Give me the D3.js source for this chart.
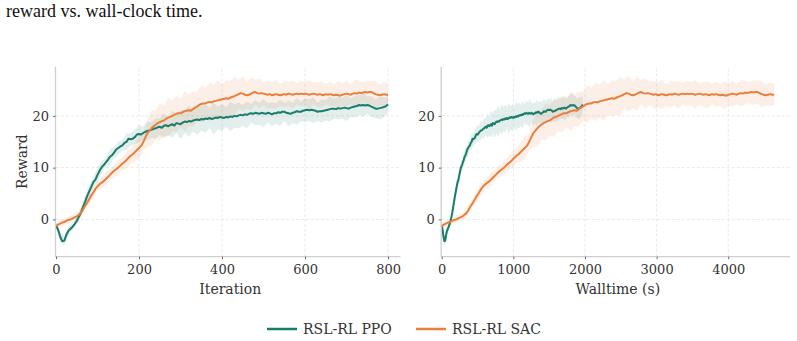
<!DOCTYPE html>
<html><head><meta charset="utf-8">
<script src="https://cdn.jsdelivr.net/npm/d3@7"></script>
<style>html,body{margin:0;padding:0;background:#fff;}svg{display:block;}</style>
</head><body>
<svg id="chart" width="797" height="341"></svg>
<script>
// ---------------- data ----------------
const seriesNames = ["RSL-RL PPO", "RSL-RL SAC"];
const iterStep = 5;          // iterations between samples of the mean curves
const bandStep = 10;         // iterations between samples of the spread band
const totalIterations = 800;
// wall-clock time (s) at which each run reached its last iteration
const ppoTotalWalltime = 1969;
const sacTotalWalltime = 4641;

const ppoReward = [
 -1.1,-2.0,-3.3,-4.2,-4.1,-3.0,-2.2,-1.8,-1.4,-0.9,
 -0.3,0.5,1.3,2.4,3.4,4.5,5.4,6.3,7.2,7.7,
 8.6,9.4,10.1,10.5,11.0,11.5,12.1,12.4,12.9,13.5,
 13.8,14.1,14.3,14.8,15.0,15.6,15.5,15.6,15.9,16.4,
 16.5,16.4,16.7,16.9,17.1,17.2,17.3,17.5,17.6,17.8,
 17.9,17.7,18.1,18.2,18.0,18.2,18.4,18.1,18.6,18.5,
 18.4,18.7,18.9,18.8,19.0,18.9,19.1,19.2,19.3,19.2,
 19.4,19.3,19.5,19.4,19.6,19.4,19.5,19.7,19.6,19.8,
 19.7,19.6,19.8,19.7,19.9,19.8,20.0,19.9,20.1,20.2,
 20.1,20.3,20.2,20.4,20.5,20.4,20.6,20.5,20.4,20.6,
 20.5,20.4,20.6,20.5,20.3,20.5,20.5,20.7,20.6,20.8,
 20.8,20.6,20.5,20.4,20.6,20.7,20.9,20.8,20.8,21.0,
 21.1,21.2,21.1,21.2,21.1,21.0,20.8,20.9,20.9,21.0,
 21.1,21.2,21.3,21.4,21.4,21.3,21.5,21.4,21.5,21.6,
 21.5,21.4,21.6,21.7,21.8,21.9,22.1,22.0,22.1,22.0,
 22.1,22.0,21.8,21.6,21.4,21.4,21.5,21.6,21.7,21.9,
 22.2];
const sacReward = [
 -1.3,-1.0,-0.8,-0.6,-0.5,-0.3,-0.1,0.0,0.2,0.4,
 0.6,0.9,1.3,1.9,2.6,3.2,3.9,4.6,5.2,5.9,
 6.4,6.8,7.1,7.4,7.8,8.2,8.6,9.0,9.4,9.7,
 10.0,10.4,10.8,11.1,11.5,11.9,12.3,12.6,13.0,13.4,
 13.8,14.2,14.9,15.8,16.6,17.1,17.6,18.0,18.3,18.6,
 18.8,19.0,19.1,19.4,19.7,19.8,20.0,20.2,20.4,20.5,
 20.5,20.7,20.9,21.0,21.1,21.0,21.3,21.6,21.8,22.1,
 22.3,22.4,22.4,22.6,22.7,22.6,22.8,22.9,23.0,23.1,
 23.2,23.3,23.4,23.3,23.5,23.7,23.8,24.0,24.2,24.4,
 24.3,24.1,24.0,24.1,24.3,24.5,24.6,24.4,24.3,24.4,
 24.3,24.2,24.1,24.2,24.0,24.1,24.2,24.1,24.0,24.1,
 24.2,24.1,24.3,24.2,24.1,24.2,24.3,24.2,24.3,24.2,
 24.3,24.2,24.1,24.2,24.3,24.2,24.1,24.2,24.1,24.0,
 24.2,24.1,24.2,24.1,24.0,24.1,24.0,23.9,24.1,24.2,
 24.3,24.2,24.1,24.3,24.4,24.3,24.5,24.4,24.5,24.6,
 24.5,24.6,24.6,24.4,24.2,24.1,24.0,24.1,24.2,24.1,
 24.1];
// half-width of the shaded spread band
const ppoSpread = [
 0.6,0.9,1.0,0.8,0.7,0.6,
 0.9,1.1,1.3,0.9,1.4,1.2,0.9,1.5,1.1,1.3,
 1.0,1.6,1.2,1.4,1.7,1.3,1.8,1.5,2.0,1.6,
 2.4,1.7,2.6,1.9,2.8,2.2,3.0,2.1,2.9,2.3,
 2.7,2.0,3.1,2.2,2.6,1.9,2.8,2.3,2.5,2.0,
 2.6,1.8,2.4,2.1,2.7,1.9,2.3,2.0,2.5,1.8,
 2.4,2.0,2.6,1.9,2.3,2.1,2.5,1.8,2.2,2.0,
 2.4,1.9,2.2,2.0,2.5,1.8,2.1,1.9,2.3,1.7,
 2.0,1.8,2.2,1.9,1.6];
const sacSpread = [
 0.5,0.6,0.7,0.6,0.8,0.7,
 0.9,0.8,1.0,1.2,0.9,1.1,1.3,1.0,1.2,1.4,
 1.3,1.6,1.4,1.8,2.2,1.7,2.6,3.4,2.8,3.6,
 2.9,3.8,3.0,3.5,2.7,3.9,3.1,3.4,2.8,3.6,
 3.0,3.7,3.2,3.9,2.9,3.5,3.3,3.8,2.8,3.4,
 2.6,3.2,2.4,2.9,2.2,2.7,2.5,2.8,2.1,2.6,
 2.3,2.7,2.0,2.5,2.2,2.8,2.1,2.4,2.6,2.0,
 2.4,2.1,2.7,2.2,2.5,1.9,2.6,2.3,2.0,2.4,
 2.2,2.6,2.0,2.3,2.1];

const yTicks = [0, 10, 20];
const iterTicks = [0, 200, 400, 600, 800];
const timeTicks = [0, 1000, 2000, 3000, 4000];

// ---------------- drawing ----------------
const colors = {"RSL-RL PPO": "#1a7c6a", "RSL-RL SAC": "#e87f3c"};
const FONT = "'DejaVu Serif', serif";
const svg = d3.select("#chart");

svg.append("text").attr("x", 6).attr("y", 17)
  .attr("font-family", "'Liberation Serif', 'Times New Roman', serif")
  .attr("font-size", 18).attr("fill", "#111")
  .text("reward vs. wall-clock time.");

const y = d3.scaleLinear().domain([-7.2, 29.5]).range([256.7, 66.7]);

function build(points, spread, total) {
  const mean = points.map((v, i) => {
    const it = i * iterStep;
    return {it, t: it / totalIterations * total, v};
  });
  const band = spread.map((h, j) => {
    const it = j * bandStep;
    const m = points[Math.round(it / iterStep)];
    return {it, t: it / totalIterations * total, lo: m - h, hi: m + h};
  });
  return {mean, band};
}
const runs = [
  {name: "RSL-RL PPO", ...build(ppoReward, ppoSpread, ppoTotalWalltime)},
  {name: "RSL-RL SAC", ...build(sacReward, sacSpread, sacTotalWalltime)}
];

const panels = [
  {key: "it", x: d3.scaleLinear().domain([0, 830]).range([56, 400.5]), ticks: iterTicks, label: "Iteration", yLabel: true},
  {key: "t", x: d3.scaleLinear().domain([0, 4862]).range([441.7, 790]), ticks: timeTicks, label: "Walltime (s)", yLabel: false}
];

panels.forEach(p => {
  const g = svg.append("g");
  const [x0, x1] = p.x.range();
  const [yb, yt] = y.range();
  // grid
  g.selectAll(".vg").data(p.ticks.filter(t => t > 0)).join("line")
    .attr("x1", d => p.x(d)).attr("x2", d => p.x(d)).attr("y1", yb).attr("y2", yt)
    .attr("stroke", "#e3e3e3").attr("stroke-width", 0.8).attr("stroke-dasharray", "3,2");
  g.selectAll(".hg").data(yTicks).join("line")
    .attr("x1", x0).attr("x2", x1).attr("y1", d => y(d)).attr("y2", d => y(d))
    .attr("stroke", "#e3e3e3").attr("stroke-width", 0.8).attr("stroke-dasharray", "3,2");

  // bands then lines
  runs.forEach(r => {
    const area = d3.area().x(d => p.x(d[p.key])).y0(d => y(d.lo)).y1(d => y(d.hi));
    g.append("path").datum(r.band).attr("d", area)
      .attr("fill", colors[r.name]).attr("fill-opacity", 0.12);
  });
  runs.forEach(r => {
    const line = d3.line().x(d => p.x(d[p.key])).y(d => y(d.v));
    g.append("path").datum(r.mean).attr("d", line)
      .attr("fill", "none").attr("stroke", colors[r.name]).attr("stroke-width", 2)
      .attr("stroke-linejoin", "round");
  });

  // spines
  g.append("line").attr("x1", x0 - 0.5).attr("x2", x1).attr("y1", yb).attr("y2", yb)
    .attr("stroke", "#cfcfcf").attr("stroke-width", 1.3);
  g.append("line").attr("x1", x0 - 0.5).attr("x2", x0 - 0.5).attr("y1", yb).attr("y2", yt)
    .attr("stroke", "#cfcfcf").attr("stroke-width", 1.3);

  // x ticks
  const xa = g.append("g").attr("transform", `translate(0,${yb})`)
    .call(d3.axisBottom(p.x).tickValues(p.ticks).tickSize(2.5).tickPadding(6).tickFormat(d3.format("d")));
  xa.select(".domain").remove();
  xa.selectAll("line").attr("stroke", "#444").attr("stroke-width", 0.8);
  xa.selectAll("text").attr("font-family", FONT).attr("font-size", 13).attr("fill", "#333");

  const ya = g.append("g").attr("transform", `translate(${x0 - 0.5},0)`)
    .call(d3.axisLeft(y).tickValues(yTicks).tickSize(2.5).tickPadding(4).tickFormat(d3.format("d")));
  ya.select(".domain").remove();
  ya.selectAll("line").attr("stroke", "#444").attr("stroke-width", 0.8);
  ya.selectAll("text").attr("font-family", FONT).attr("font-size", 13).attr("fill", "#333");

  g.append("text").attr("x", (x0 + x1) / 2 + 2).attr("y", 294)
    .attr("text-anchor", "middle").attr("font-family", FONT).attr("font-size", 14)
    .attr("fill", "#333").text(p.label);
  if (p.yLabel) {
    g.append("text").attr("transform", `translate(27,${(yb + yt) / 2}) rotate(-90)`)
      .attr("text-anchor", "middle").attr("font-family", FONT).attr("font-size", 14)
      .attr("fill", "#333").text("Reward");
  }
});

// legend
const legendX = [267, 416];
seriesNames.forEach((n, i) => {
  const lg = svg.append("g").attr("transform", `translate(${legendX[i]},329)`);
  lg.append("line").attr("x1", 0).attr("x2", 30).attr("y1", 0).attr("y2", 0)
    .attr("stroke", colors[n]).attr("stroke-width", 2.5);
  lg.append("text").attr("x", 36).attr("y", 5)
    .attr("font-family", FONT).attr("font-size", 14).attr("fill", "#333").text(n);
});
</script>
</body></html>
